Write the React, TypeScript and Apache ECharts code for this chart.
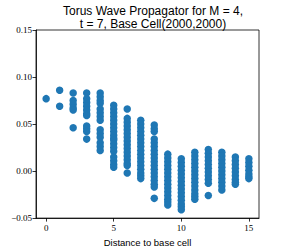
import React, { useEffect, useRef } from "react";
import * as echarts from "echarts";

const titleLines = ["Torus Wave Propagator for M = 4,", "t = 7, Base Cell(2000,2000)"];
const xLabel = "Distance to base cell";
const yTicks = [-0.05, 0, 0.05, 0.1, 0.15];
const xTicks = [0, 5, 10, 15];

const d0 = [0.077];
const d1 = [0.086, 0.069];
const d2 = [0.083, 0.075, 0.071, 0.067, 0.065, 0.046];
const d3 = [0.083, 0.077, 0.073, 0.069, 0.065, 0.061, 0.059, 0.048, 0.045, 0.042, 0.034];
const d4 = [0.083, 0.079, 0.075, 0.072, 0.066, 0.062, 0.058, 0.054, 0.044, 0.04, 0.036, 0.03, 0.026, 0.022];
const d5 = [0.07, 0.066, 0.062, 0.058, 0.054, 0.05, 0.046, 0.042, 0.038, 0.035, 0.033, 0.029, 0.025, 0.021, 0.015, 0.011, 0.007, 0.004];
const d6 = [0.066, 0.056, 0.052, 0.048, 0.044, 0.04, 0.036, 0.032, 0.028, 0.024, 0.02, 0.016, 0.012, 0.008, 0.006, -0.002];
const d7 = [0.054, 0.05, 0.046, 0.042, 0.038, 0.034, 0.03, 0.026, 0.022, 0.018, 0.014, 0.01, 0.006, 0.002, -0.002, -0.005, -0.008];
const d8 = [0.049, 0.045, 0.042, 0.034, 0.03, 0.026, 0.022, 0.018, 0.014, 0.01, 0.006, 0.002, -0.002, -0.006, -0.01, -0.014, -0.017, -0.029];
const d9 = [0.018, 0.014, 0.01, 0.006, 0.002, -0.002, -0.006, -0.01, -0.014, -0.018, -0.022, -0.026, -0.03, -0.033, -0.036];
const d10 = [0.013, 0.009, 0.005, 0.001, -0.003, -0.007, -0.011, -0.015, -0.019, -0.023, -0.027, -0.031, -0.035, -0.038, -0.041];
const d11 = [0.02, 0.016, 0.012, 0.008, 0.004, 0.0, -0.004, -0.008, -0.012, -0.016, -0.02, -0.024, -0.027, -0.03];
const d12 = [0.023, 0.019, 0.015, 0.011, 0.007, 0.003, -0.001, -0.005, -0.009, -0.013, -0.026];
const d13 = [0.02, 0.016, 0.012, 0.008, 0.004, 0.0, -0.004, -0.008, -0.012, -0.016, -0.02];
const d14 = [0.015, 0.011, 0.007, 0.003, -0.001, -0.005, -0.009, -0.012, -0.014];
const d15 = [0.013, 0.009, 0.005, 0.001, -0.003, -0.006, -0.008];

const columns = [d0, d1, d2, d3, d4, d5, d6, d7, d8, d9, d10, d11, d12, d13, d14, d15];

export default function App() {
  const ref = useRef<HTMLDivElement>(null);
  useEffect(() => {
    if (!ref.current) return;
    const chart = echarts.init(ref.current, undefined, { renderer: "svg" });
    const data: number[][] = [];
    columns.forEach((col, i) => col.forEach((v) => data.push([i, v])));
    const fmtY = (v: number) => {
      const s = Math.abs(v).toFixed(2);
      return v < -1e-9 ? "\u2212" + s : s;
    };
    chart.setOption({
      animation: false,
      title: {
        text: titleLines.join("\n"),
        left: 148,
        top: 0,
        textAlign: "center",
        textStyle: {
          fontFamily: "Liberation Sans",
          fontSize: 12,
          fontWeight: "normal",
          color: "#000",
          lineHeight: 12.5,
        },
      },
      grid: {
        left: 36,
        right: 29,
        top: 30,
        bottom: 28,
        show: true,
        borderColor: "#000",
        borderWidth: 0.8,
      },
      xAxis: {
        type: "value",
        min: -0.75,
        max: 15.75,
        name: xLabel,
        nameLocation: "middle",
        nameGap: 17,
        nameTextStyle: { fontFamily: "Liberation Sans", fontSize: 9.5, color: "#000" },
        axisLine: { show: true, onZero: false, lineStyle: { color: "#000", width: 0.8 } },
        axisTick: { show: true, inside: false, length: 3.5, lineStyle: { color: "#000", width: 0.8 }, customValues: xTicks },
        axisLabel: {
          fontFamily: "Liberation Serif",
          fontSize: 9,
          color: "#000",
          margin: 5,
          customValues: xTicks,
          formatter: (v: number) => String(v),
        },
        splitLine: { show: false },
      },
      yAxis: {
        type: "value",
        min: -0.05,
        max: 0.15,
        interval: 0.05,
        axisLine: { show: true, onZero: false, lineStyle: { color: "#000", width: 0.8 } },
        axisTick: { show: true, inside: false, length: 3.5, lineStyle: { color: "#000", width: 0.8 } },
        axisLabel: {
          fontFamily: "Liberation Serif",
          fontSize: 9,
          color: "#000",
          margin: 4,
          formatter: fmtY,
          customValues: yTicks,
        },
        splitLine: { show: false },
      },
      series: [
        {
          type: "scatter",
          data,
          symbolSize: 7.5,
          itemStyle: { color: "#1f77b4", opacity: 1 },
        },
      ],
    });
    return () => chart.dispose();
  }, []);
  return <div ref={ref} style={{ width: 288, height: 252, position: "absolute", left: 0, top: 0 }} />;
}
